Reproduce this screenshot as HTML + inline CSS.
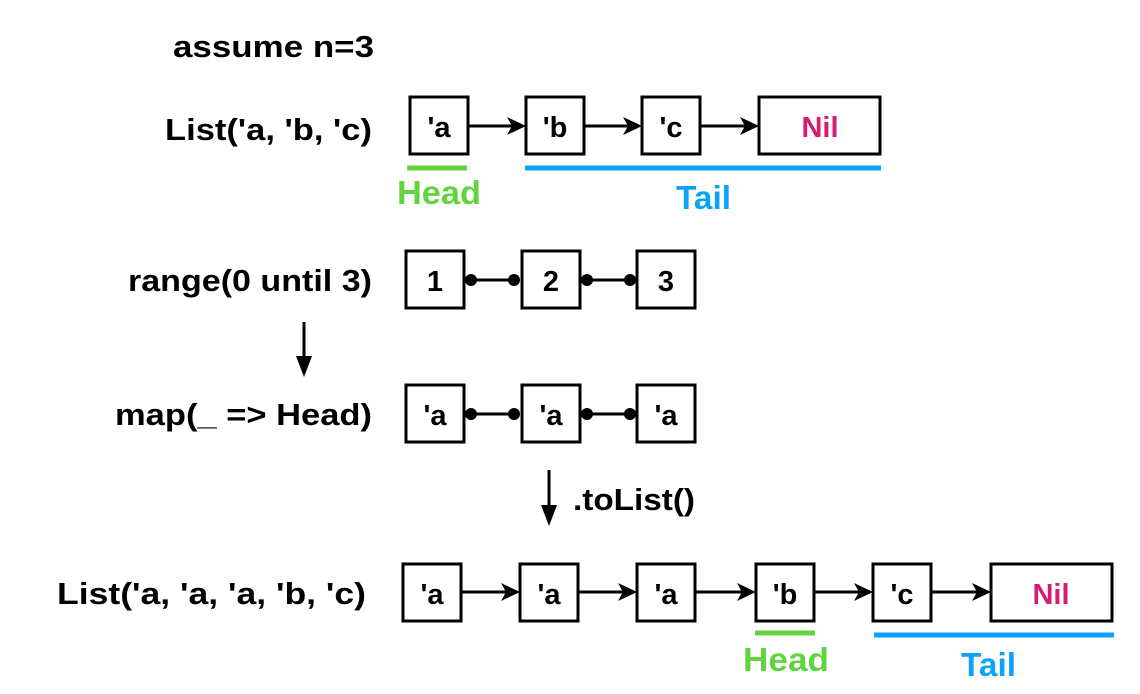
<!DOCTYPE html>
<html><head><meta charset="utf-8"><style>
html,body{margin:0;padding:0;background:#fff;}
svg{display:block;}
text{font-family:"Liberation Sans",Arial,sans-serif;font-weight:bold;}
</style></head><body>
<svg width="1140" height="694" viewBox="0 0 1140 694" xmlns="http://www.w3.org/2000/svg">
<g fill="#000" font-size="31">
<text x="173" y="57" textLength="201" lengthAdjust="spacingAndGlyphs">assume n=3</text>
<text x="165" y="140" textLength="207" lengthAdjust="spacingAndGlyphs">List('a, 'b, 'c)</text>
<text x="128" y="291" textLength="244" lengthAdjust="spacingAndGlyphs">range(0 until 3)</text>
<text x="115" y="425" textLength="257" lengthAdjust="spacingAndGlyphs">map(_ =&gt; Head)</text>
<text x="57" y="604" textLength="309" lengthAdjust="spacingAndGlyphs">List('a, 'a, 'a, 'b, 'c)</text>
<text x="573" y="510" textLength="122" lengthAdjust="spacingAndGlyphs">.toList()</text>
</g>
<g fill="none" stroke="#000" stroke-width="3">
<rect x="410" y="97" width="58" height="57"/>
<rect x="526" y="97" width="58" height="57"/>
<rect x="642" y="97" width="58" height="57"/>
<rect x="759" y="97" width="121" height="57"/>
<rect x="406" y="251" width="58" height="57"/>
<rect x="522" y="251" width="58" height="57"/>
<rect x="637" y="251" width="58" height="57"/>
<rect x="406" y="385" width="58" height="57"/>
<rect x="522" y="385" width="58" height="57"/>
<rect x="637" y="385" width="58" height="57"/>
<rect x="403" y="564" width="58" height="57"/>
<rect x="520" y="564" width="58" height="57"/>
<rect x="637" y="564" width="58" height="57"/>
<rect x="756" y="564" width="58" height="57"/>
<rect x="873" y="564" width="58" height="57"/>
<rect x="991" y="564" width="121" height="57"/>
<line x1="469" y1="126" x2="512" y2="126"/>
<line x1="585" y1="126" x2="628" y2="126"/>
<line x1="701" y1="126" x2="745" y2="126"/>
<line x1="462" y1="592" x2="506" y2="592"/>
<line x1="579" y1="592" x2="623" y2="592"/>
<line x1="696" y1="592" x2="742" y2="592"/>
<line x1="815" y1="592" x2="859" y2="592"/>
<line x1="932" y1="592" x2="977" y2="592"/>
<line x1="469" y1="280" x2="514" y2="280"/>
<line x1="585" y1="280" x2="629" y2="280"/>
<line x1="469" y1="414" x2="514" y2="414"/>
<line x1="585" y1="414" x2="629" y2="414"/>
<line x1="304" y1="322" x2="304" y2="360"/>
<line x1="549" y1="470" x2="549" y2="510"/>
</g>
<g fill="#000">
<polygon points="526,126 507,117 512,126 507,135"/>
<polygon points="642,126 623,117 628,126 623,135"/>
<polygon points="759,126 740,117 745,126 740,135"/>
<polygon points="520,592 501,583 506,592 501,601"/>
<polygon points="637,592 618,583 623,592 618,601"/>
<polygon points="756,592 737,583 742,592 737,601"/>
<polygon points="873,592 854,583 859,592 854,601"/>
<polygon points="991,592 972,583 977,592 972,601"/>
<polygon points="296,356 312,356 304,377"/>
<polygon points="541,505 557,505 549,526"/>
<circle cx="471" cy="280" r="6"/><circle cx="514" cy="280" r="6"/>
<circle cx="587" cy="280" r="6"/><circle cx="630" cy="280" r="6"/>
<circle cx="471" cy="414" r="6"/><circle cx="514" cy="414" r="6"/>
<circle cx="587" cy="414" r="6"/><circle cx="630" cy="414" r="6"/>
</g>
<g font-size="29" text-anchor="middle" fill="#000">
<text x="439" y="137">'a</text>
<text x="555" y="137">'b</text>
<text x="671" y="137">'c</text>
<text x="435" y="291">1</text>
<text x="551" y="291">2</text>
<text x="666" y="291">3</text>
<text x="435" y="425">'a</text>
<text x="551" y="425">'a</text>
<text x="666" y="425">'a</text>
<text x="432" y="604">'a</text>
<text x="549" y="604">'a</text>
<text x="666" y="604">'a</text>
<text x="785" y="604">'b</text>
<text x="902" y="604">'c</text>
</g>
<g font-size="29" text-anchor="middle" fill="#d81b72">
<text x="820" y="137">Nil</text>
<text x="1051" y="604">Nil</text>
</g>
<g stroke-width="5">
<line x1="407" y1="168" x2="467" y2="168" stroke="#5fd43c"/>
<line x1="525" y1="168" x2="881" y2="168" stroke="#0aa3f5"/>
<line x1="755" y1="633" x2="815" y2="633" stroke="#5fd43c"/>
<line x1="874" y1="635" x2="1114" y2="635" stroke="#0aa3f5"/>
</g>
<g font-size="33">
<text x="397" y="204" fill="#5fd43c" textLength="84" lengthAdjust="spacingAndGlyphs">Head</text>
<text x="676" y="209" fill="#0aa3f5" textLength="55" lengthAdjust="spacingAndGlyphs">Tail</text>
<text x="743" y="671" fill="#5fd43c" textLength="86" lengthAdjust="spacingAndGlyphs">Head</text>
<text x="961" y="676" fill="#0aa3f5" textLength="55" lengthAdjust="spacingAndGlyphs">Tail</text>
</g>
</svg>
</body></html>
